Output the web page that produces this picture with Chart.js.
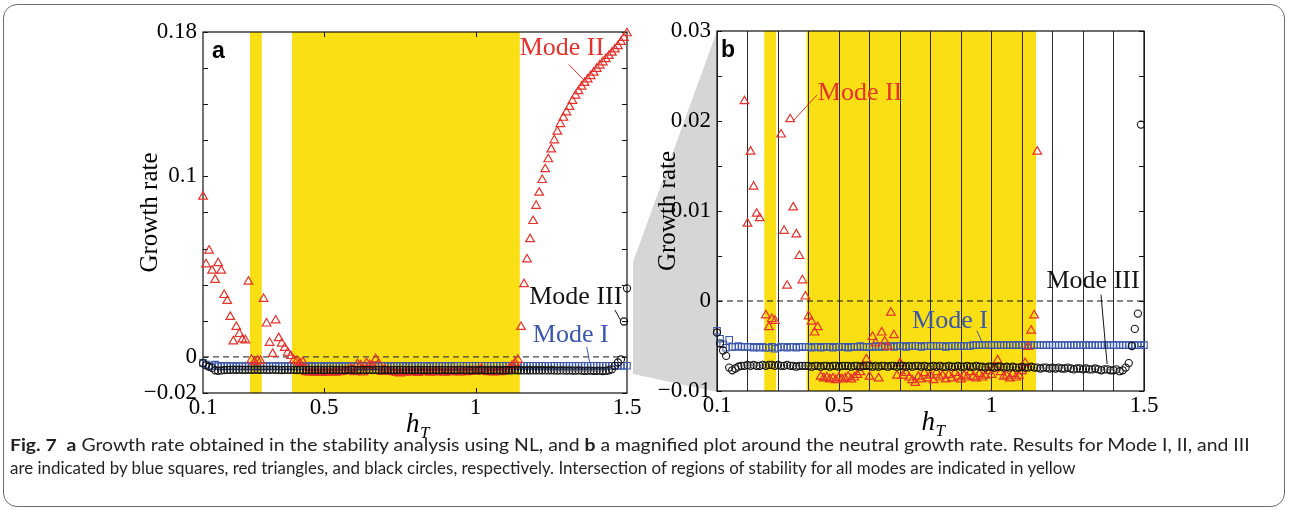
<!DOCTYPE html>
<html>
<head>
<meta charset="utf-8">
<script src="https://cdn.jsdelivr.net/npm/chart.js@4.4.1/dist/chart.umd.min.js"></script>
<style>
  html, body { margin: 0; padding: 0; background: #fff; }
  body { width: 1290px; height: 512px; position: relative; overflow: hidden; }
  #frame { position: absolute; left: 3px; top: 4px; width: 1282px; height: 503px; border: 1px solid #6d6d6d; border-radius: 14px; box-sizing: border-box; }
  #wedge { position: absolute; left: 0; top: 0; }
  .panel { position: absolute; top: 0; height: 450px; }
  #boxA { left: 100px; width: 580px; }
  #boxB { left: 600px; width: 600px; }
  .cap { position: absolute; left: 10px; font-family: Lato, "Noto Sans", sans-serif; font-size: 17px; color: #231f20; white-space: nowrap; transform-origin: 0 0; }
  .cap b { font-weight: 700; }
</style>
</head>
<body>
<div id="frame"></div>
<svg id="wedge" width="1290" height="512"><polygon points="633,262 717,31 717,392 633,374" fill="#d6d6d6"/></svg>
<div class="panel" id="boxA"><canvas id="chartA"></canvas></div>
<div class="panel" id="boxB"><canvas id="chartB"></canvas></div>
<div class="cap" id="cap1" style="top:434px"><b>Fig. 7</b>&nbsp; <b>a</b> Growth rate obtained in the stability analysis using NL, and <b>b</b> a magnified plot around the neutral growth rate. Results for Mode I, II, and III</div>
<div class="cap" id="cap2" style="top:457px">are indicated by blue squares, red triangles, and black circles, respectively. Intersection of regions of stability for all modes are indicated in yellow</div>
<script>
'use strict'

// h_T sampling (step 0.01)
const hT = [
  0.10, 0.11, 0.12, 0.13, 0.14, 0.15, 0.16, 0.17, 0.18, 0.19,
  0.20, 0.21, 0.22, 0.23, 0.24, 0.25, 0.26, 0.27, 0.28, 0.29,
  0.30, 0.31, 0.32, 0.33, 0.34, 0.35, 0.36, 0.37, 0.38, 0.39,
  0.40, 0.41, 0.42, 0.43, 0.44, 0.45, 0.46, 0.47, 0.48, 0.49,
  0.50, 0.51, 0.52, 0.53, 0.54, 0.55, 0.56, 0.57, 0.58, 0.59,
  0.60, 0.61, 0.62, 0.63, 0.64, 0.65, 0.66, 0.67, 0.68, 0.69,
  0.70, 0.71, 0.72, 0.73, 0.74, 0.75, 0.76, 0.77, 0.78, 0.79,
  0.80, 0.81, 0.82, 0.83, 0.84, 0.85, 0.86, 0.87, 0.88, 0.89,
  0.90, 0.91, 0.92, 0.93, 0.94, 0.95, 0.96, 0.97, 0.98, 0.99,
  1.00, 1.01, 1.02, 1.03, 1.04, 1.05, 1.06, 1.07, 1.08, 1.09,
  1.10, 1.11, 1.12, 1.13, 1.14, 1.15, 1.16, 1.17, 1.18, 1.19,
  1.20, 1.21, 1.22, 1.23, 1.24, 1.25, 1.26, 1.27, 1.28, 1.29,
  1.30, 1.31, 1.32, 1.33, 1.34, 1.35, 1.36, 1.37, 1.38, 1.39,
  1.40, 1.41, 1.42, 1.43, 1.44, 1.45, 1.46, 1.47, 1.48, 1.49,
  1.50
];

// Mode I (blue squares)
const modeI = [
  -0.0033, -0.0042, -0.0048, -0.0052, -0.0043, -0.0051, -0.0051, -0.0050, -0.0051, -0.0051,
  -0.0051, -0.0051, -0.0052, -0.0051, -0.0052, -0.0051, -0.0052, -0.0052, -0.0051, -0.0053,
  -0.0052, -0.0051, -0.0051, -0.0052, -0.0051, -0.0051, -0.0052, -0.0051, -0.0051, -0.0051,
  -0.0051, -0.0052, -0.0051, -0.0051, -0.0052, -0.0051, -0.0051, -0.0051, -0.0052, -0.0051,
  -0.0051, -0.0051, -0.0051, -0.0052, -0.0051, -0.0051, -0.0051, -0.0050, -0.0051, -0.0051,
  -0.0051, -0.0051, -0.0050, -0.0051, -0.0050, -0.0051, -0.0050, -0.0050, -0.0051, -0.0050,
  -0.0050, -0.0050, -0.0051, -0.0050, -0.0050, -0.0050, -0.0050, -0.0051, -0.0050, -0.0050,
  -0.0050, -0.0050, -0.0050, -0.0050, -0.0050, -0.0051, -0.0050, -0.0050, -0.0050, -0.0050,
  -0.0050, -0.0050, -0.0050, -0.0050, -0.0049, -0.0049, -0.0049, -0.0049, -0.0049, -0.0049,
  -0.0049, -0.0049, -0.0049, -0.0049, -0.0049, -0.0049, -0.0049, -0.0049, -0.0049, -0.0049,
  -0.0049, -0.0049, -0.0049, -0.0049, -0.0049, -0.0049, -0.0049, -0.0049, -0.0049, -0.0049,
  -0.0049, -0.0049, -0.0049, -0.0049, -0.0049, -0.0049, -0.0049, -0.0049, -0.0049, -0.0049,
  -0.0049, -0.0049, -0.0049, -0.0049, -0.0049, -0.0049, -0.0049, -0.0049, -0.0049, -0.0049,
  -0.0049, -0.0049, -0.0049, -0.0049, -0.0049, -0.0049, -0.0049, -0.0049, -0.0049, -0.0049,
  -0.0049
];

// Mode II (red triangles)
const modeII = [
  0.0888, 0.0513, 0.0589, 0.0478, 0.0427, 0.0519, 0.0478, 0.0343, 0.0310, 0.0222,
  0.0086, 0.0166, 0.0127, 0.0097, 0.0092, 0.0417, -0.0016, -0.0029, -0.0020, -0.0022,
  0.0321, 0.0185, 0.0078, 0.0017, 0.0202, 0.0104, 0.0074, 0.0050, 0.0023, 0.0005,
  -0.0017, -0.0023, -0.0035, -0.0029, -0.0084, -0.0086, -0.0085, -0.0087, -0.0086, -0.0088,
  -0.0085, -0.0087, -0.0086, -0.0084, -0.0087, -0.0085, -0.0082, -0.0079, -0.0073, -0.0065,
  -0.0084, -0.0040, -0.0047, -0.0086, -0.0035, -0.0045, -0.0051, -0.0013, -0.0038, -0.0083,
  -0.0069, -0.0083, -0.0080, -0.0085, -0.0088, -0.0091, -0.0084, -0.0087, -0.0080, -0.0086,
  -0.0083, -0.0088, -0.0079, -0.0085, -0.0083, -0.0087, -0.0082, -0.0086, -0.0080, -0.0084,
  -0.0087, -0.0083, -0.0085, -0.0079, -0.0084, -0.0086, -0.0081, -0.0085, -0.0083, -0.0078,
  -0.0082, -0.0075, -0.0066, -0.0079, -0.0084, -0.0083, -0.0086, -0.0081, -0.0085, -0.0083,
  -0.0078, -0.0069, -0.0051, -0.0033, -0.0016, 0.0166, 0.0403, 0.0540, 0.0652, 0.0753,
  0.0837, 0.0910, 0.0980, 0.1040, 0.1095, 0.1150, 0.1200, 0.1248, 0.1290, 0.1325,
  0.1355, 0.1385, 0.1418, 0.1448, 0.1472, 0.1497, 0.1518, 0.1537, 0.1556, 0.1575,
  0.1596, 0.1614, 0.1632, 0.1650, 0.1668, 0.1686, 0.1704, 0.1722, 0.1745, 0.1768,
  0.1793
];

// Mode III (black circles)
const modeIII = [
  -0.0035, -0.0047, -0.0055, -0.0061, -0.0074, -0.0077, -0.0075, -0.0073, -0.0072, -0.0072,
  -0.0071, -0.0072, -0.0071, -0.0072, -0.0072, -0.0071, -0.0072, -0.0071, -0.0071, -0.0072,
  -0.0071, -0.0072, -0.0072, -0.0071, -0.0072, -0.0072, -0.0073, -0.0072, -0.0072, -0.0072,
  -0.0072, -0.0073, -0.0072, -0.0072, -0.0073, -0.0072, -0.0072, -0.0073, -0.0072, -0.0072,
  -0.0073, -0.0072, -0.0072, -0.0072, -0.0073, -0.0072, -0.0072, -0.0073, -0.0072, -0.0072,
  -0.0072, -0.0073, -0.0072, -0.0073, -0.0072, -0.0072, -0.0073, -0.0072, -0.0072, -0.0073,
  -0.0072, -0.0072, -0.0073, -0.0072, -0.0073, -0.0072, -0.0072, -0.0073, -0.0072, -0.0073,
  -0.0073, -0.0072, -0.0073, -0.0072, -0.0073, -0.0073, -0.0072, -0.0073, -0.0073, -0.0072,
  -0.0073, -0.0073, -0.0072, -0.0073, -0.0073, -0.0072, -0.0073, -0.0073, -0.0074, -0.0073,
  -0.0073, -0.0074, -0.0073, -0.0073, -0.0074, -0.0073, -0.0074, -0.0073, -0.0074, -0.0074,
  -0.0073, -0.0074, -0.0074, -0.0073, -0.0074, -0.0074, -0.0075, -0.0074, -0.0074, -0.0075,
  -0.0074, -0.0075, -0.0074, -0.0075, -0.0075, -0.0074, -0.0075, -0.0076, -0.0075, -0.0075,
  -0.0076, -0.0075, -0.0076, -0.0076, -0.0075, -0.0076, -0.0077, -0.0076, -0.0076, -0.0077,
  -0.0077, -0.0076, -0.0078, -0.0077, -0.0074, -0.0069, -0.0050, -0.0031, -0.0014, 0.0196,
  0.0380
];

// h_T ranges where all modes are stable (yellow)
const stableBands = [[0.255, 0.294], [0.394, 1.146]];

const zeroX = [0.1, 1.5];
const zeroY = [0, 0];

const xTicksA = [0.1, 0.5, 1, 1.5];
const xLabelsA = ['0.1', '0.5', '1', '1.5'];
const yTicksA = [-0.02, 0, 0.02, 0.04, 0.06, 0.08, 0.1, 0.12, 0.14, 0.16, 0.18];
const yLabelsA = ['\u22120.02', '0', '', '', '', '', '0.1', '', '', '', '0.18'];

const xTicksB = [0.1, 0.2, 0.3, 0.4, 0.5, 0.6, 0.7, 0.8, 0.9, 1.0, 1.1, 1.2, 1.3, 1.4, 1.5];
const xLabelsB = ['0.1', '', '', '', '0.5', '', '', '', '', '1', '', '', '', '', '1.5'];
const yTicksB = [-0.01, -0.005, 0, 0.005, 0.01, 0.015, 0.02, 0.025, 0.03];
const yLabelsB = ['\u22120.01', '', '0', '', '0.01', '', '0.02', '', '0.03'];

const RED = '#e5322b';
const BLUE = '#3b58ad';
const BLACK = '#141414';
const YELLOW = '#f9df14';
const SERIF = '"Liberation Serif", "Times New Roman", serif';

function pts(vals) {
  return hT.map((h, i) => ({x: h, y: vals[i]}));
}

// yellow bands, frame, inward ticks, mode labels, h_T title
function makeDeco(cfg) {
  return {
    id: 'deco',
    beforeDraw(chart) {
      const {ctx, chartArea: a, scales: {x}} = chart;
      ctx.save();
      ctx.fillStyle = YELLOW;
      stableBands.forEach(([l, r]) => {
        const xl = x.getPixelForValue(l), xr = x.getPixelForValue(r);
        ctx.fillRect(xl, a.top, xr - xl, a.bottom - a.top);
      });
      ctx.restore();
    },
    beforeDatasetsDraw(chart) {
      const {ctx, chartArea: a, scales: {x, y}} = chart;
      ctx.save();
      ctx.strokeStyle = '#111';
      ctx.lineWidth = 1.2;
      ctx.strokeRect(a.left, a.top, a.right - a.left, a.bottom - a.top);
      ctx.lineWidth = 1;
      ctx.beginPath();
      cfg.yTicks.forEach(v => {
        const py = Math.round(y.getPixelForValue(v)) + 0.5;
        ctx.moveTo(a.left, py); ctx.lineTo(a.left + 5, py);
        ctx.moveTo(a.right, py); ctx.lineTo(a.right - 5, py);
      });
      cfg.xTicks.forEach(v => {
        const px = Math.round(x.getPixelForValue(v)) + 0.5;
        ctx.moveTo(px, a.top); ctx.lineTo(px, a.top + 5);
        ctx.moveTo(px, a.bottom); ctx.lineTo(px, a.bottom - 5);
      });
      ctx.stroke();
      ctx.restore();
    },
    afterDatasetsDraw(chart) {
      const {ctx, chartArea: a, scales: {x, y}} = chart;
      ctx.save();
      cfg.labels.forEach(l => {
        ctx.strokeStyle = l.color;
        ctx.lineWidth = 1;
        ctx.beginPath();
        ctx.moveTo(x.getPixelForValue(l.line[0][0]), y.getPixelForValue(l.line[0][1]));
        ctx.lineTo(x.getPixelForValue(l.line[1][0]), y.getPixelForValue(l.line[1][1]));
        ctx.stroke();
        ctx.fillStyle = l.color;
        ctx.font = '26px ' + SERIF;
        ctx.textAlign = 'center';
        ctx.textBaseline = 'middle';
        ctx.fillText(l.text, x.getPixelForValue(l.at[0]), y.getPixelForValue(l.at[1]));
      });
      // panel letter
      ctx.fillStyle = '#000';
      ctx.font = 'bold 23px "Liberation Sans", Arial, sans-serif';
      ctx.textAlign = 'left';
      ctx.textBaseline = 'alphabetic';
      ctx.fillText(cfg.letter, a.left + cfg.letterDx, a.top + 26);
      // h_T axis title
      const cx = (a.left + a.right) / 2;
      ctx.font = 'italic 27px ' + SERIF;
      ctx.fillText('h', cx - 9, a.bottom + 39);
      ctx.font = 'italic 17px ' + SERIF;
      ctx.fillText('T', cx + 5, a.bottom + 45);
      ctx.restore();
    }
  };
}

function makeChart(id, opt) {
  const datasets = [
    {type: 'line', data: zeroX.map((v, i) => ({x: v, y: zeroY[i]})), showLine: true, pointRadius: 0,
     borderColor: opt.zeroColor, borderWidth: 1.1, borderDash: [6, 4], order: 10},
    {label: 'Mode I', data: pts(modeI), pointStyle: 'rect', pointRadius: 4.6, borderColor: BLUE,
     backgroundColor: 'rgba(0,0,0,0)', pointBorderWidth: 1.1, order: 3, clip: opt.clip},
    {label: 'Mode II', data: pts(modeII), pointStyle: 'triangle', pointRadius: 5, borderColor: RED,
     backgroundColor: 'rgba(0,0,0,0)', pointBorderWidth: 1.2, order: 2, clip: opt.clip},
    {label: 'Mode III', data: pts(modeIII), pointStyle: 'circle', pointRadius: 3.6, borderColor: BLACK,
     backgroundColor: 'rgba(0,0,0,0)', pointBorderWidth: 1.1, order: 1, clip: opt.clip}
  ];
  return new Chart(document.getElementById(id), {
    type: 'scatter',
    data: {datasets: datasets},
    plugins: [makeDeco(opt.deco)],
    options: {
      responsive: true,
      maintainAspectRatio: false,
      animation: false,
      events: [],
      layout: {padding: opt.padding},
      plugins: {legend: {display: false}, tooltip: {enabled: false}},
      scales: {
        x: {
          type: 'linear', min: 0.1, max: 1.5,
          afterBuildTicks: s => { s.ticks = opt.xTicks.map(v => ({value: v})); },
          afterFit: s => { s.height = opt.xHeight; },
          ticks: {autoSkip: false, maxRotation: 0, padding: 1, color: '#000',
                  font: {family: SERIF, size: 23}, callback: (v, i) => opt.xLabels[i]},
          grid: {display: opt.xGrid, drawTicks: false, color: '#2a2a2a', lineWidth: 1},
          border: {display: false}
        },
        y: {
          type: 'linear', min: opt.yMin, max: opt.yMax,
          afterBuildTicks: s => { s.ticks = opt.yTicks.map(v => ({value: v})); },
          afterFit: s => { s.width = opt.yWidth; },
          ticks: {autoSkip: false, padding: 6, color: '#000',
                  font: {family: SERIF, size: 23}, callback: (v, i) => opt.yLabels[i]},
          grid: {display: false, drawTicks: false},
          border: {display: false},
          title: {display: true, text: 'Growth rate', color: '#000',
                  font: {family: SERIF, size: 25}, padding: {top: opt.titlePad, bottom: 0}}
        }
      }
    }
  });
}

makeChart('chartA', {
  padding: {left: 0, top: 32, right: 53, bottom: 0},
  xHeight: 57, yWidth: 103, titlePad: 35,
  yMin: -0.02, yMax: 0.18,
  xTicks: xTicksA, xLabels: xLabelsA, yTicks: yTicksA, yLabels: yLabelsA,
  xGrid: false, zeroColor: '#444', clip: false,
  deco: {
    yTicks: yTicksA, xTicks: [0.5, 1], letter: 'a', letterDx: 9,
    labels: [
      {text: 'Mode II', color: RED, at: [1.285, 0.171], line: [[1.308, 0.162], [1.354, 0.154]]},
      {text: 'Mode III', color: BLACK, at: [1.331, 0.0332], line: [[1.460, 0.026], [1.480, 0.020]]},
      {text: 'Mode I', color: BLUE, at: [1.314, 0.0122], line: [[1.367, 0.0055], [1.377, -0.0033]]}
    ]
  }
});

makeChart('chartB', {
  padding: {left: 0, top: 31, right: 56, bottom: 0},
  xHeight: 59, yWidth: 117, titlePad: 53,
  yMin: -0.01, yMax: 0.03,
  xTicks: xTicksB, xLabels: xLabelsB, yTicks: yTicksB, yLabels: yLabelsB,
  xGrid: true, zeroColor: '#111', clip: {left: 5, top: 0, right: 5, bottom: 5},
  deco: {
    yTicks: yTicksB, xTicks: [], letter: 'b', letterDx: 4,
    labels: [
      {text: 'Mode II', color: RED, at: [0.569, 0.0231], line: [[0.428, 0.0229], [0.352, 0.0201]]},
      {text: 'Mode I', color: BLUE, at: [0.864, -0.0022], line: [[0.952, -0.0033], [0.972, -0.0048]]},
      {text: 'Mode III', color: BLACK, at: [1.333, 0.0022], line: [[1.359, 0.0007], [1.379, -0.0070]]}
    ]
  }
});

// fit caption lines to the reference line widths
[['cap1', 1240], ['cap2', 1066]].forEach(([id, w]) => {
  const el = document.getElementById(id);
  el.style.transform = 'scaleX(' + (w / el.offsetWidth) + ')';
});
</script>
</body>
</html>
